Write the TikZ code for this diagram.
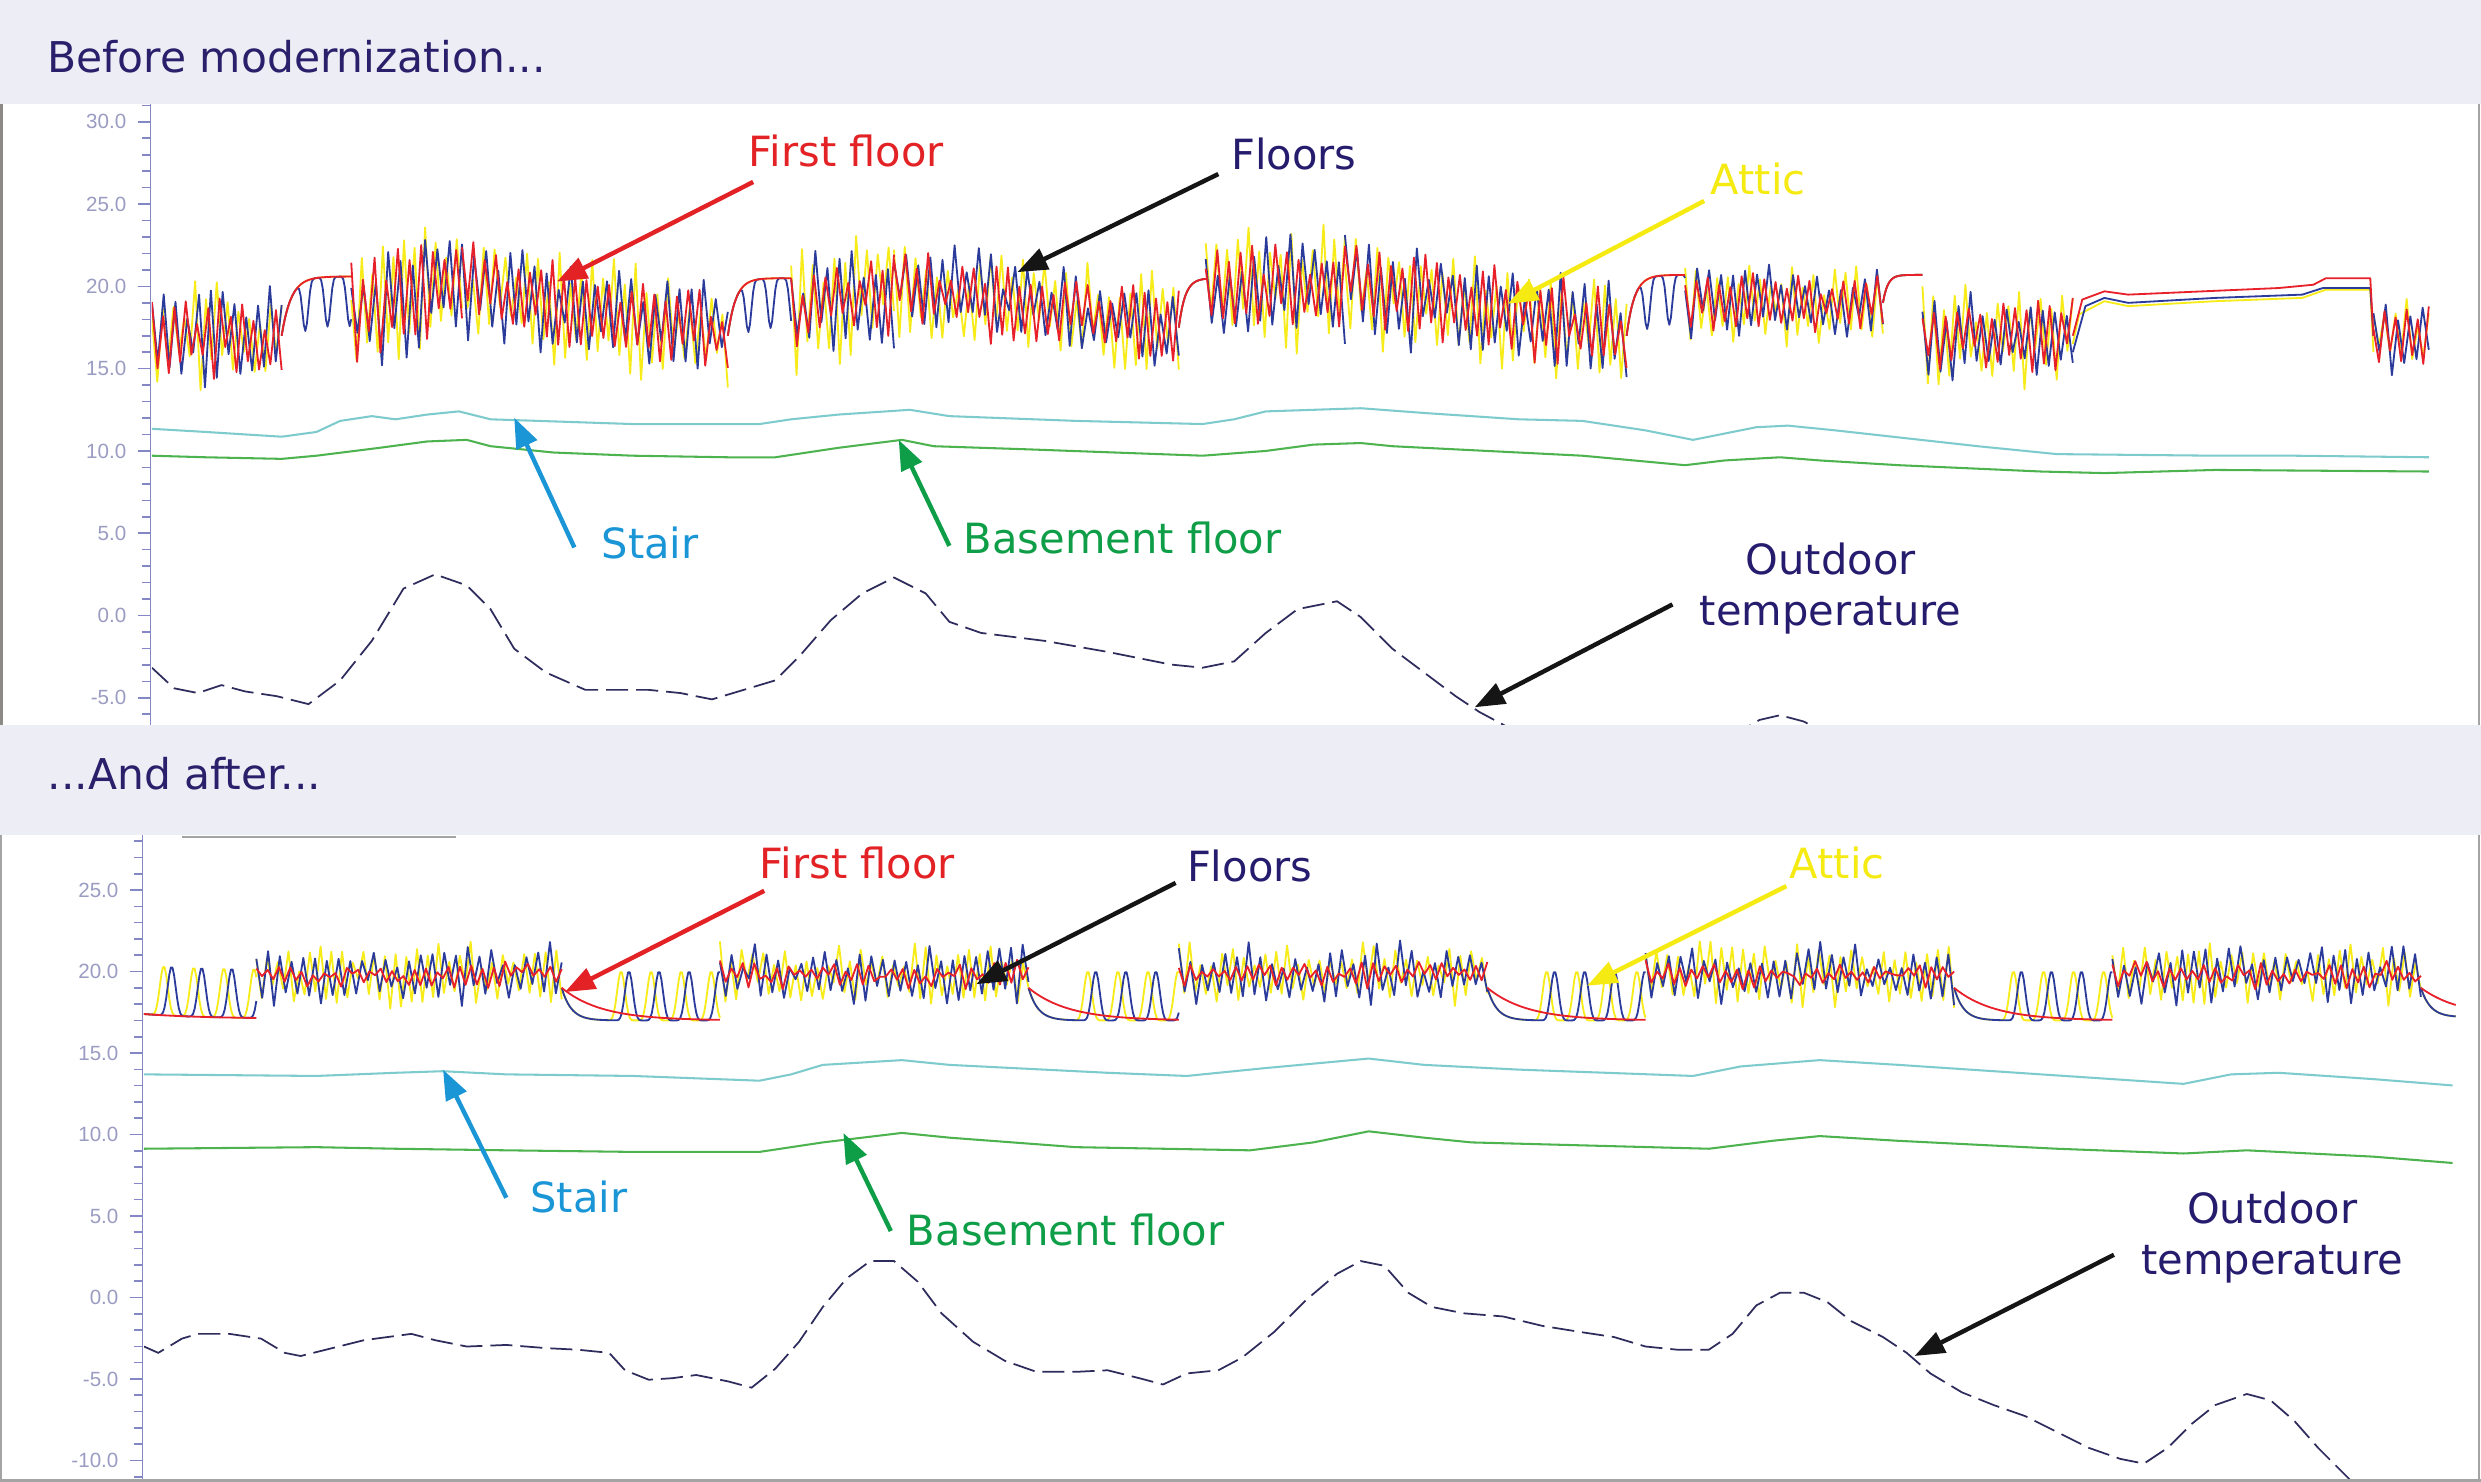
\documentclass[tikz,border=0pt]{standalone}
\usepackage{fontspec}
\setmainfont{DejaVu Sans}
\newfontfamily\axisfont{Liberation Sans}
\usetikzlibrary{arrows.meta}
\definecolor{hdrbg}{HTML}{EDEEF5}
\definecolor{hdrtext}{HTML}{2A1F6B}
\definecolor{axcol}{HTML}{8387C6}
\definecolor{axlab}{HTML}{9A9CC2}
\definecolor{cred}{HTML}{E8202A}
\definecolor{cblue}{HTML}{2B3B9C}
\definecolor{cyellow}{HTML}{F7EC1A}
\definecolor{ccyan}{HTML}{7ECBCE}
\definecolor{cgreen}{HTML}{4DB34F}
\definecolor{cout}{HTML}{2E2C5C}
\definecolor{lred}{HTML}{E32226}
\definecolor{lnavy}{HTML}{261C6E}
\definecolor{lyellow}{HTML}{F5EA12}
\definecolor{lstair}{HTML}{1A96D7}
\definecolor{lgreen}{HTML}{0F9E48}
\definecolor{larrow}{HTML}{151515}
\definecolor{framecol}{HTML}{A4A4A4}
\definecolor{framedark}{HTML}{8C8A86}

\tikzset{
  dataline/.style={line width=1.15pt, line join=round},
  stairline/.style={ccyan, line width=1.3pt, line join=round},
  basementline/.style={cgreen, line width=1.3pt, line join=round},
  outdoorline/.style={cout, line width=1.1pt, dash pattern=on 14pt off 5pt},
  lbl/.style={font=\fontsize{26.3}{32}\selectfont, inner sep=0pt},
  hdr/.style={font=\fontsize{26.8}{30}\selectfont, text=hdrtext, inner sep=0pt, anchor=base west},
  pointer/.style={line width=2.8pt, -{Triangle[length=19pt,width=14pt]}},
  axislab/.style={font=\axisfont\fontsize{13}{15}\selectfont, text=axlab, anchor=east, inner sep=0pt},
  axisline/.style={axcol, line width=1pt},
}

% oscillating segment: style, x0, x1, step, T0, T1, amp, minfactor
\newcommand\oscseg[8]{%
  \pgfmathtruncatemacro\nsamp{round(((#3)-(#2))/(#4))+1}%
  \pgfmathsetmacro\rfac{180/(((#3)-(#2))/(\nsamp-1))}%
  \pgfmathsetmacro\slope{((#6)-(#5))/((#3)-(#2))}%
  \draw[dataline,#1] plot[domain=#2:#3,samples=\nsamp]
    (\x,{(#5)+\slope*(\x-(#2))+(#7)*cos(\rfac*(\x-(#2)))*((#8)+(1-(#8))*rnd)+(#7)*0.45*(rnd-0.5)});
}
% exponential approach with spikes: style, x0, x1, Tstart, base, tau, spikeamp, period, phase
\newcommand\lowseg[9]{%
  \pgfmathtruncatemacro\nsamp{(#3)-(#2)+1}%
  \pgfmathsetmacro\sfac{180/(#8)}%
  \draw[dataline,#1] plot[domain=#2:#3,samples=\nsamp]
    (\x,{(#5)+((#4)-(#5))*exp(-(\x-(#2))/(#6))+(#7)*((\x-(#2))>(#9))*(0.001+abs(sin(\sfac*(\x-(#2)-(#9)))))^6});
}

% top panel indoor series: style, dip amplitude
\newcommand\topseries[2]{%
  \oscseg{#1}{96}{178}{\st}{17}{16.8}{2.9*\af}{0.35}
  \lowseg{#1}{178}{222}{17}{20.6}{6}{#2}{14}{8}
  \oscseg{#1}{222}{292}{\st}{18.3}{20}{3.4*\af}{0.35}
  \oscseg{#1}{292}{460}{\st}{20}{17}{2.9*\af}{0.35}
  \lowseg{#1}{460}{500}{17}{20.5}{5}{#2}{14}{6}
  \oscseg{#1}{500}{565}{\st}{18.5}{20}{3.2*\af}{0.35}
  \oscseg{#1}{565}{745}{\st}{20}{17.5}{2.6*\af}{0.35}
  \lowseg{#1}{745}{762}{17.5}{20.5}{4}{0}{10}{0}
  \oscseg{#1}{762}{850}{\st}{19.5}{20.3}{3.4*\af}{0.35}
  \oscseg{#1}{850}{1028}{\st}{20.3}{17}{3.0*\af}{0.35}
  \lowseg{#1}{1028}{1065}{17}{20.7}{5}{#2}{14}{6}
  \oscseg{#1}{1065}{1190}{\st}{19}{19}{2.1*\af}{0.35}
  \lowseg{#1}{1190}{1215}{19}{20.7}{3}{0}{10}{0}
  \oscseg{#1}{1215}{1310}{\st}{17}{17}{2.6*\af}{0.35}
  \oscseg{#1}{1500}{1535}{\st}{17}{17}{2.1*\af}{0.35}
}
% lower panel indoor series: style, spike amp, decay tau, high amp, high minfactor, spike phase offset
\newcommand\lowseries[6]{%
  \lowseg{#1}{90}{162}{17.4}{17.1}{40}{#2}{19}{4+#6}
  \oscseg{#1}{162}{355}{\st}{19.7}{19.9}{#4}{#5}
  \lowseg{#1}{355}{455}{19}{17.0}{#3}{#2}{19}{28+#6}
  \oscseg{#1}{455}{650}{\st}{19.8}{19.8}{#4}{#5}
  \lowseg{#1}{650}{745}{19}{17.0}{#3}{#2}{19}{28+#6}
  \oscseg{#1}{745}{940}{\st}{19.8}{19.9}{#4}{#5}
  \lowseg{#1}{940}{1040}{19}{17.0}{#3}{#2}{19}{28+#6}
  \oscseg{#1}{1040}{1235}{\st}{19.8}{19.8}{#4}{#5}
  \lowseg{#1}{1235}{1335}{19}{17.0}{#3}{#2}{19}{28+#6}
  \oscseg{#1}{1335}{1530}{\st}{19.8}{19.8}{#4}{#5}
  \lowseg{#1}{1530}{1552}{19}{17.2}{#3}{0}{19}{0}
}

\begin{document}
\begin{tikzpicture}[x=1pt,y=-1pt]
\useasboundingbox (0,0) rectangle (1568,936.6);
\fill[white] (0,0) rectangle (1568,936.6);
\pgfmathsetseed{4242}

% ================= TOP PANEL =================
\begin{scope}
  \clip (96,66) rectangle (1566,458);
  \draw[stairline] (96,271) -- (130,273) -- (178,276) -- (200,273) -- (215,266) -- (235,263) -- (250,265) -- (270,262) -- (290,260) -- (310,265) -- (340,266) -- (400,268) -- (460,268) -- (480,268) -- (500,265) -- (530,262) -- (575,259) -- (600,263) -- (680,266) -- (760,268) -- (780,265) -- (800,260) -- (860,258) -- (900,261) -- (960,265) -- (1000,266) -- (1040,272) -- (1070,278) -- (1090,274) -- (1110,270) -- (1130,269) -- (1160,272) -- (1250,282) -- (1300,287) -- (1400,288) -- (1450,288) -- (1535,289);
  \draw[basementline] (96,288) -- (130,289) -- (178,290) -- (200,288) -- (240,283) -- (270,279) -- (295,278) -- (310,282) -- (350,286) -- (400,288) -- (460,289) -- (490,289) -- (530,283) -- (570,278) -- (590,282) -- (650,284) -- (760,288) -- (800,285) -- (830,281) -- (860,280) -- (880,282) -- (1000,288) -- (1065,294) -- (1090,291) -- (1125,289) -- (1150,291) -- (1200,294) -- (1290,298) -- (1330,299) -- (1400,297) -- (1535,298);
  \draw[outdoorline] (96,422) -- (110,435) -- (125,438) -- (140,433) -- (155,437) -- (175,440) -- (195,445) -- (215,430) -- (235,405) -- (255,372) -- (275,363) -- (295,370) -- (310,385) -- (325,410) -- (345,425) -- (370,436) -- (390,436) -- (410,436) -- (430,438) -- (450,442) -- (470,436) -- (490,430) -- (505,415) -- (525,392) -- (545,375) -- (565,365) -- (585,375) -- (600,393) -- (620,400) -- (660,405) -- (700,412) -- (740,420) -- (760,422) -- (780,418) -- (800,400) -- (820,385) -- (845,380) -- (860,390) -- (880,410) -- (900,425) -- (920,440) -- (935,450) -- (950,458) -- (970,470) -- (1050,480) -- (1100,462) -- (1112,455) -- (1125,452) -- (1140,456) -- (1155,464);
  \begin{scope}[shift={(0,389)},yscale=-10.4]
    \def\st{3.4}\def\af{1.1}\topseries{cyellow}{0}
    \draw[dataline,cyellow] (1310,16.5) -- (1314,18.3) -- (1330,19.1) -- (1345,18.8) -- (1400,19.1) -- (1455,19.3) -- (1470,19.8) -- (1498,19.8) -- (1500,16);
    \def\st{3.8}\def\af{1.0}\topseries{cblue}{-3}
    \draw[dataline,cblue] (1310,16) -- (1318,18.8) -- (1330,19.3) -- (1345,19.0) -- (1400,19.3) -- (1455,19.5) -- (1468,19.9) -- (1498,19.9) -- (1500,17);
    \def\st{3.6}\def\af{0.85}\topseries{cred}{0}
    \draw[dataline,cred] (1310,17) -- (1316,19.2) -- (1330,19.7) -- (1345,19.5) -- (1440,19.9) -- (1462,20.1) -- (1470,20.5) -- (1498,20.5) -- (1500,17);
  \end{scope}
\end{scope}

% top axis
\draw[axisline] (95,66) -- (95,458);
\foreach \t in {-6,...,31} \draw[axisline] (89.5,{389-10.4*\t}) -- (95,{389-10.4*\t});
\foreach \t/\lab in {30/30.0,25/25.0,20/20.0,15/15.0,10/10.0,5/5.0,0/0.0,-5/-5.0} {
  \draw[axisline] (87,{389-10.4*\t}) -- (95,{389-10.4*\t});
  \node[axislab] (ta\t) at (80,{389-10.4*\t}) {\lab};
}

% ================= LOWER PANEL =================
\begin{scope}
  \clip (91,528) rectangle (1566,935);
  \draw[stairline] (91,679) -- (200,680) -- (250,678) -- (280,677) -- (320,679) -- (400,680) -- (480,683) -- (500,679) -- (520,673) -- (570,670) -- (600,673) -- (700,678) -- (750,680) -- (800,675) -- (865,669) -- (900,673) -- (960,676) -- (1070,680) -- (1100,674) -- (1150,670) -- (1200,673) -- (1290,679) -- (1380,685) -- (1410,679) -- (1440,678) -- (1500,682) -- (1550,686);
  \draw[basementline] (91,726) -- (200,725) -- (250,726) -- (320,727) -- (400,728) -- (480,728) -- (520,722) -- (570,716) -- (600,719) -- (680,725) -- (790,727) -- (830,722) -- (865,715) -- (900,719) -- (930,722) -- (1080,726) -- (1120,721) -- (1150,718) -- (1200,721) -- (1300,726) -- (1380,729) -- (1420,727) -- (1500,731) -- (1550,735);
  \draw[outdoorline] (91,851) -- (100,855) -- (115,846) -- (125,843) -- (145,843) -- (165,846) -- (180,855) -- (190,857) -- (210,852) -- (230,847) -- (245,845) -- (260,843) -- (275,847) -- (295,851) -- (320,850) -- (345,852) -- (365,853) -- (385,855) -- (395,866) -- (410,872) -- (425,871) -- (440,869) -- (460,873) -- (475,877) -- (490,865) -- (505,848) -- (520,826) -- (535,808) -- (550,797) -- (565,797) -- (580,810) -- (595,830) -- (615,848) -- (635,860) -- (655,867) -- (680,867) -- (700,866) -- (720,871) -- (735,875) -- (750,868) -- (770,866) -- (785,858) -- (805,842) -- (825,822) -- (845,805) -- (860,797) -- (875,800) -- (890,817) -- (905,826) -- (925,830) -- (950,832) -- (975,838) -- (1000,842) -- (1020,845) -- (1040,851) -- (1060,853) -- (1080,853) -- (1095,843) -- (1110,825) -- (1125,817) -- (1140,817) -- (1155,823) -- (1170,835) -- (1190,845) -- (1205,855) -- (1220,868) -- (1240,880) -- (1260,888) -- (1280,895) -- (1300,905) -- (1320,915) -- (1340,922) -- (1355,925) -- (1370,915) -- (1385,900) -- (1400,888) -- (1420,881) -- (1435,885) -- (1450,898) -- (1465,915) -- (1480,930) -- (1490,940);
  \begin{scope}[shift={(0,820)},yscale=-10.3]
    \def\st{3.4}\lowseries{cyellow}{3}{6}{1.8}{0.3}{0}
    \def\st{3.7}\lowseries{cblue}{3}{6}{1.7}{0.3}{5}
    \def\st{3.6}\lowseries{cred}{0}{25}{0.8}{0}{0}
  \end{scope}
\end{scope}

% lower axis
\draw[axisline] (90,528) -- (90,935);
\foreach \t in {-11,...,28} \draw[axisline] (84.5,{820-10.3*\t}) -- (90,{820-10.3*\t});
\foreach \t/\lab in {25/25.0,20/20.0,15/15.0,10/10.0,5/5.0,0/0.0,-5/-5.0,-10/-10.0} {
  \draw[axisline] (82,{820-10.3*\t}) -- (90,{820-10.3*\t});
  \node[axislab] (ba\t) at (75,{820-10.3*\t}) {\lab};
}

% ================= HEADERS AND FRAMES =================
\fill[hdrbg] (0,0) rectangle (1568,66);
\fill[hdrbg] (0,458) rectangle (1568,528);
\node[hdr] (h1) at (30,46) {Before modernization...};
\node[hdr] (h2) at (30,499) {...And after...};
\draw[framecol, line width=1.5pt] (115,528.8) -- (288,528.8);
\draw[framedark, line width=2pt] (1,66) -- (1,458);
\draw[framecol, line width=1.2pt] (1566.6,66) -- (1566.6,458);
\draw[framecol, line width=1.5pt] (0.8,528) -- (0.8,936.6);
\draw[framecol, line width=1.5pt] (1566.6,528) -- (1566.6,936.6);
\draw[framecol, line width=2pt] (0,935.6) -- (1568,935.6);

% ================= LABELS AND ARROWS: TOP =================
\node[lbl, text=lred, anchor=base west] (tff) at (473,105) {First floor};
\node[lbl, text=lnavy, anchor=base west] (tfl) at (778,107) {Floors};
\node[lbl, text=lyellow, anchor=base west] (tat) at (1081,123) {Attic};
\node[lbl, text=lstair, anchor=base west] (tst) at (380,353) {Stair};
\node[lbl, text=lgreen, anchor=base west] (tbf) at (609,350) {Basement floor};
\node[lbl, text=lnavy, align=center, anchor=north] (tod) at (1157,343) {Outdoor\\temperature};
\coordinate (tffs) at (476,115); \coordinate (tffe) at (352,178);
\coordinate (tfls) at (770,110); \coordinate (tfle) at (643,172);
\coordinate (tats) at (1077,127); \coordinate (tate) at (953,192);
\coordinate (tsts) at (363,346); \coordinate (tste) at (325,264);
\coordinate (tbfs) at (600,345); \coordinate (tbfe) at (568,278);
\coordinate (tods) at (1057,382); \coordinate (tode) at (932,447);
\draw[pointer, lred] (tffs) -- (tffe);
\draw[pointer, larrow] (tfls) -- (tfle);
\draw[pointer, lyellow] (tats) -- (tate);
\draw[pointer, lstair] (tsts) -- (tste);
\draw[pointer, lgreen] (tbfs) -- (tbfe);
\draw[pointer, larrow] (tods) -- (tode);

% ================= LABELS AND ARROWS: LOWER =================
\node[lbl, text=lred, anchor=base west] (bff) at (480,555) {First floor};
\node[lbl, text=lnavy, anchor=base west] (bfl) at (750,557) {Floors};
\node[lbl, text=lyellow, anchor=base west] (bat) at (1131,555) {Attic};
\node[lbl, text=lstair, anchor=base west] (bst) at (335,766) {Stair};
\node[lbl, text=lgreen, anchor=base west] (bbf) at (573,787) {Basement floor};
\node[lbl, text=lnavy, align=center, anchor=north] (bod) at (1436,753) {Outdoor\\temperature};
\coordinate (bffs) at (483,563); \coordinate (bffe) at (357,627);
\coordinate (bfls) at (743,558); \coordinate (bfle) at (617,622);
\coordinate (bats) at (1129,560); \coordinate (bate) at (1003,623);
\coordinate (bsts) at (320,757); \coordinate (bste) at (280,676);
\coordinate (bbfs) at (563,778); \coordinate (bbfe) at (533,716);
\coordinate (bods) at (1336,793); \coordinate (bode) at (1210,857);
\draw[pointer, lred] (bffs) -- (bffe);
\draw[pointer, larrow] (bfls) -- (bfle);
\draw[pointer, lyellow] (bats) -- (bate);
\draw[pointer, lstair] (bsts) -- (bste);
\draw[pointer, lgreen] (bbfs) -- (bbfe);
\draw[pointer, larrow] (bods) -- (bode);
\end{tikzpicture}
\end{document}
